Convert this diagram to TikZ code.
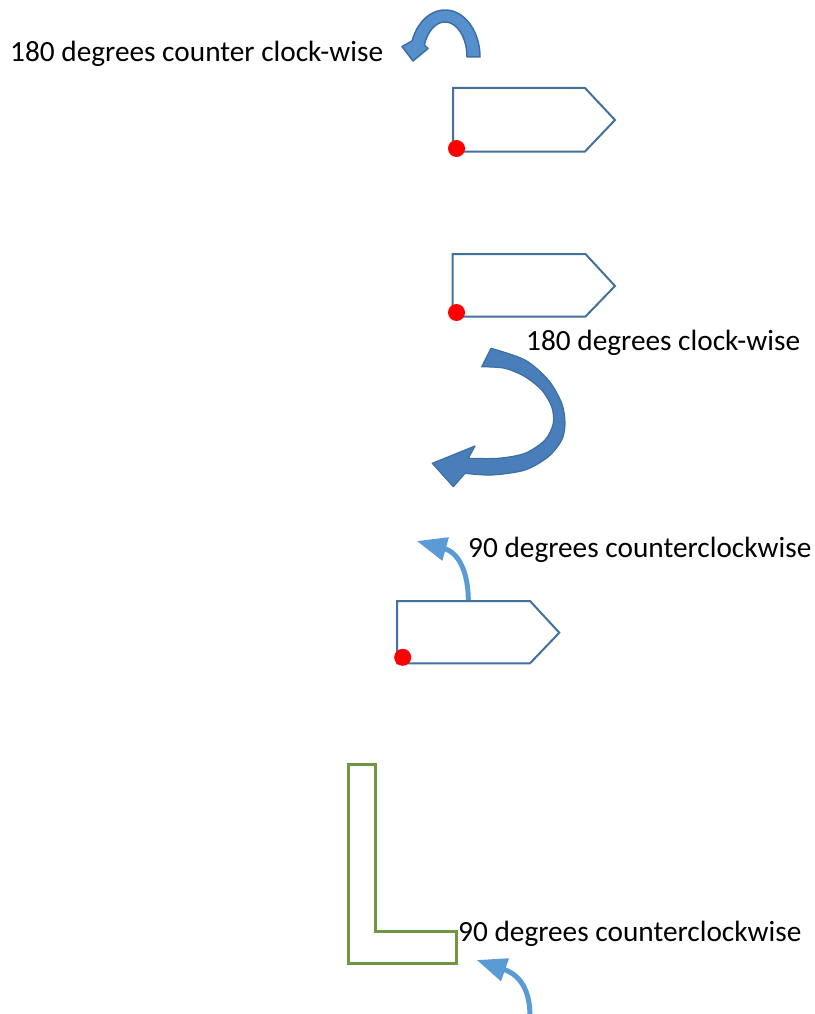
\documentclass[tikz,border=0pt]{standalone}
\usepackage{fontspec}
\setmainfont{Carlito}
\usetikzlibrary{arrows.meta}
\definecolor{shapeblue}{HTML}{41719C}
\definecolor{arrowdark}{HTML}{3C6EA3}
\definecolor{arrowfill}{HTML}{4A7EBB}
\definecolor{arrowlight}{HTML}{5590CC}
\definecolor{lightarrow}{HTML}{5B9BD5}
\definecolor{lgreen}{HTML}{70963F}
\tikzset{
  pent/.style={draw=shapeblue, line width=2pt, fill=white, line join=miter},
  reddot/.style={circle, fill=red, minimum size=17pt, inner sep=0pt},
  bigarrow/.style={fill=arrowfill, draw=arrowdark, line width=1.2pt, line join=round},
  smallbigarrow/.style={fill=arrowlight, draw=arrowdark, line width=1.5pt, line join=round},
  thinarrow/.style={draw=lightarrow, line width=5pt, -{Triangle[length=30pt,width=23pt]}},
  label/.style={anchor=base west, inner sep=0pt, font=\fontsize{29.3}{34}\selectfont},
  lshape/.style={draw=lgreen, line width=3pt}
}
\begin{document}
\begin{tikzpicture}[x=1pt,y=-1pt]
\useasboundingbox (0,0) rectangle (814,1014);

% labels
\node[label] (t1) at (10,62) {180 degrees counter clock-wise};
\node[label] (t2) at (526,350) {180 degrees clock-wise};
\node[label] (t3) at (468,557) {90 degrees counterclockwise};
\node[label] (t4) at (458,941.7) {90 degrees counterclockwise};

% arrow 1 (180 ccw)
\filldraw[smallbigarrow] (480,57) -- plot[domain=0:-160,samples=40,variable=\t] ({445+35*cos(\t)},{57+47*sin(\t)})
  -- (402,46.5) -- (413,61) -- (428,48.5)
  -- plot[domain=-160:0,samples=40,variable=\t] ({445+22*cos(\t)},{57+35*sin(\t)}) -- cycle;

% pentagon 1
\draw[pent] (453,88) -- (585,88) -- (615,120) -- (585,151.5) -- (453,151.5) -- cycle;
\node[reddot] (d1) at (456.5,148.5) {};

% pentagon 2
\draw[pent] (452.5,254) -- (585.5,254) -- (615,286) -- (585.5,316.5) -- (452.5,316.5) -- cycle;
\node[reddot] (d2) at (456.5,312.5) {};

% arrow 2 (180 cw)
\filldraw[bigarrow] plot[smooth] coordinates {(491,348.3) (525,360) (548.3,380) (561.7,403.3) (565,423.3) (561.7,440) (548.3,456.7) (525,470) (491.7,475) (465,473.3)}
  -- (453.3,486.7) -- (432.3,463.3) -- (475,446) -- (468.3,458.3)
  -- plot[smooth] coordinates {(468.3,458.3) (498.3,458.3) (525,453.3) (545,440) (553.3,423.3) (551.7,406.7) (541.7,390) (525,376.7) (505,368.3) (481.7,366.7)} -- cycle;

% pentagon 3
\draw[pent] (397,601) -- (530,601) -- (559.3,632.7) -- (530,663.3) -- (397,663.3) -- cycle;
\node[reddot] (d3) at (402.7,657.3) {};
\coordinate (s3) at (468.3,600);
\coordinate (h3) at (416.7,541);
\draw[thinarrow] (s3) .. controls (468.3,575) and (460,553) .. (h3);

% L shape
\draw[lshape] (348.3,764) -- (375.7,764) -- (375.7,931.7) -- (456.7,931.7) -- (456.7,963.3) -- (348.3,963.3) -- cycle;
\coordinate (s4) at (530,1016);
\coordinate (h4) at (476.7,960);
\draw[thinarrow] (s4) .. controls (530,990) and (520,975) .. (h4);
\end{tikzpicture}
\end{document}
